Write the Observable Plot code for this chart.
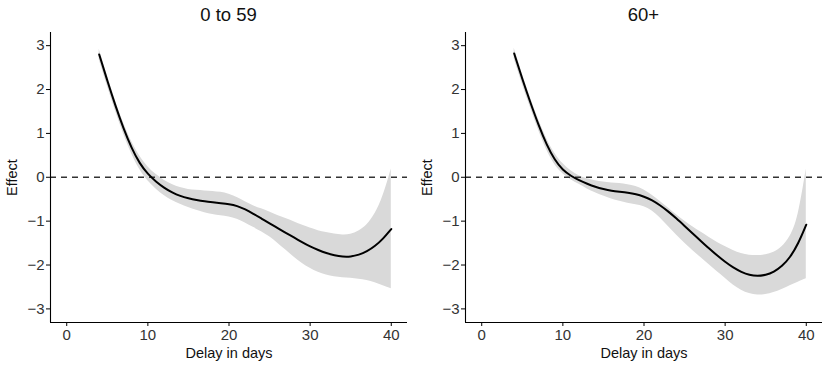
<!DOCTYPE html>
<html>
<head>
<meta charset="utf-8">
<script src="https://cdn.jsdelivr.net/npm/d3@7"></script>
<script src="https://cdn.jsdelivr.net/npm/@observablehq/plot@0.6"></script>
<style>
  body { margin: 0; background: white; font-family: "Liberation Sans", Arial, Helvetica, sans-serif; }
  #wrap { display: flex; width: 830px; }
  .panel { width: 415px; }
  .ptitle { margin-left: 50px; width: 357px; height: 30px; line-height: 30px; text-align: center; font-size: 18.5px; color: #111; }
</style>
</head>
<body>
<div id="wrap"></div>
<script>
const panelTitles = ["0 to 59", "60+"];
const delay = [4,5,6,7,8,9,10,11,12,13,14,15,16,17,18,19,20,21,22,23,24,25,26,27,28,29,30,31,32,33,34,35,36,37,38,39,40];

const young_fit = [2.80,2.20,1.63,1.11,0.66,0.31,0.07,-0.10,-0.24,-0.35,-0.43,-0.48,-0.52,-0.55,-0.57,-0.59,-0.61,-0.65,-0.73,-0.83,-0.94,-1.05,-1.16,-1.27,-1.37,-1.48,-1.58,-1.66,-1.73,-1.78,-1.81,-1.81,-1.77,-1.69,-1.57,-1.40,-1.18];
const young_hi  = [2.92,2.32,1.74,1.23,0.80,0.47,0.23,0.06,-0.07,-0.17,-0.24,-0.28,-0.30,-0.31,-0.32,-0.34,-0.38,-0.46,-0.56,-0.65,-0.72,-0.79,-0.87,-0.94,-1.01,-1.09,-1.16,-1.22,-1.26,-1.29,-1.32,-1.31,-1.23,-1.10,-0.85,-0.45,0.19];
const young_lo  = [2.68,2.08,1.51,0.98,0.52,0.16,-0.09,-0.27,-0.42,-0.53,-0.62,-0.69,-0.75,-0.81,-0.85,-0.88,-0.90,-0.95,-1.04,-1.14,-1.24,-1.35,-1.50,-1.66,-1.82,-1.96,-2.08,-2.17,-2.23,-2.27,-2.29,-2.30,-2.32,-2.35,-2.40,-2.47,-2.54];

const old_fit = [2.82,2.24,1.70,1.19,0.74,0.39,0.16,0.03,-0.07,-0.15,-0.22,-0.27,-0.31,-0.33,-0.35,-0.38,-0.44,-0.52,-0.64,-0.78,-0.94,-1.11,-1.28,-1.45,-1.62,-1.78,-1.93,-2.06,-2.16,-2.23,-2.25,-2.23,-2.16,-2.03,-1.83,-1.52,-1.08];
const old_hi  = [2.94,2.36,1.81,1.31,0.87,0.53,0.30,0.14,0.03,-0.04,-0.08,-0.11,-0.13,-0.14,-0.17,-0.20,-0.28,-0.41,-0.55,-0.70,-0.86,-1.00,-1.13,-1.25,-1.37,-1.48,-1.58,-1.67,-1.74,-1.78,-1.79,-1.77,-1.72,-1.60,-1.38,-0.95,0.19];
const old_lo  = [2.70,2.12,1.59,1.07,0.61,0.27,0.07,-0.06,-0.16,-0.27,-0.35,-0.43,-0.50,-0.55,-0.59,-0.63,-0.66,-0.76,-0.92,-1.12,-1.32,-1.50,-1.67,-1.83,-1.99,-2.15,-2.30,-2.46,-2.58,-2.66,-2.69,-2.68,-2.63,-2.56,-2.47,-2.39,-2.31];

const xDomain = [-2, 42];
const yDomain = [-3.31, 3.3];
const xTicks = [0, 10, 20, 30, 40];
const yTicks = [-3, -2, -1, 0, 1, 2, 3];
const xLabel = "Delay in days";
const yLabel = "Effect";

const series = [
  {fit: young_fit, hi: young_hi, lo: young_lo},
  {fit: old_fit, hi: old_hi, lo: old_lo}
];

const font = "'Liberation Sans', Arial, Helvetica, sans-serif";
const wrap = document.getElementById("wrap");

series.forEach((s, i) => {
  const rows = delay.map((d, j) => ({x: d, y: s.fit[j], lo: s.lo[j], hi: s.hi[j]}));
  const panel = document.createElement("div");
  panel.className = "panel";
  const t = document.createElement("div");
  t.className = "ptitle";
  t.textContent = panelTitles[i];
  panel.appendChild(t);
  const chart = Plot.plot({
    width: 415,
    height: 339,
    marginLeft: 50,
    marginRight: 8,
    marginTop: 2,
    marginBottom: 47,
    x: {domain: xDomain},
    y: {domain: yDomain},
    style: {fontFamily: font, fontSize: "15px", background: "white", color: "#222"},
    marks: [
      Plot.areaY(rows, {x: "x", y1: "lo", y2: "hi", fill: "#d9d9d9", curve: "basis"}),
      Plot.ruleY([0], {stroke: "#333", strokeWidth: 1.5, strokeDasharray: "6,5"}),
      Plot.line(rows, {x: "x", y: "y", stroke: "black", strokeWidth: 2, curve: "basis"}),
      Plot.axisX({ticks: xTicks, tickSize: 4, tickPadding: 3, tickFormat: d3.format("d"), label: null, stroke: "black", fill: "#333", fontSize: 15}),
      Plot.axisX({ticks: [], label: xLabel, labelAnchor: "center", labelOffset: 35, labelArrow: "none", fill: "#111", fontSize: 14.5}),
      Plot.axisY({ticks: yTicks, tickSize: 4, tickPadding: 2, tickFormat: d3.format("d"), label: null, stroke: "black", fill: "#333", fontSize: 15}),
      Plot.axisY({ticks: [], label: yLabel, labelAnchor: "center", labelOffset: 44, labelArrow: "none", fill: "#111", fontSize: 14.5}),
      Plot.ruleX([xDomain[0]], {stroke: "black", strokeWidth: 1.1}),
      Plot.ruleY([yDomain[0]], {stroke: "black", strokeWidth: 1.1})
    ]
  });
  panel.appendChild(chart);
  wrap.appendChild(panel);
});
</script>
</body>
</html>
